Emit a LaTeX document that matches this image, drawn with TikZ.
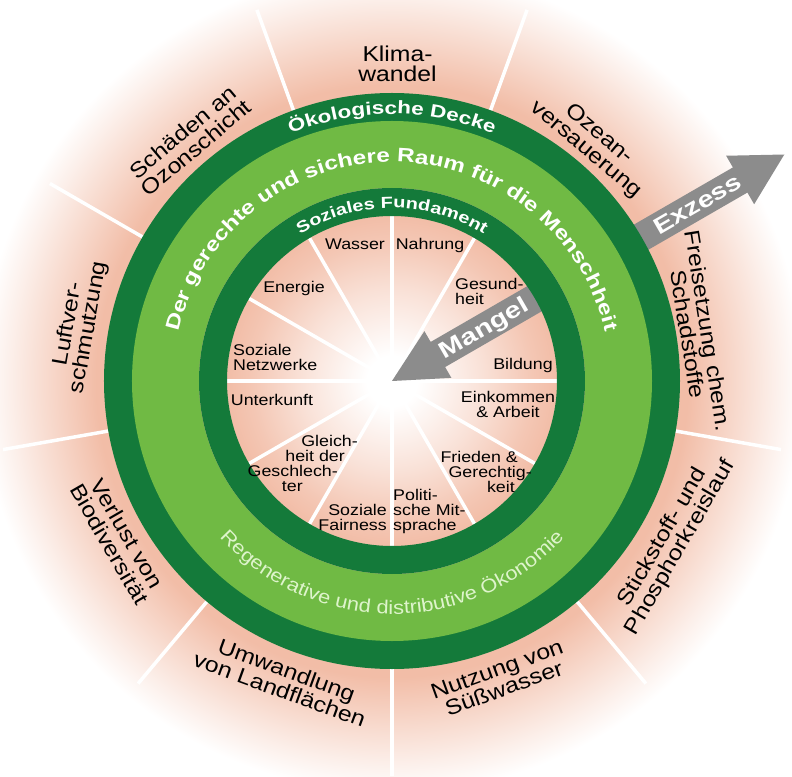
\documentclass[tikz,border=0pt]{standalone}
\usepackage{fontspec}
\setmainfont{Liberation Sans}
\newfontfamily\dnfont[FakeStretch=1.15]{Liberation Sans}
\newfontfamily\dnwide[FakeStretch=1.25]{Liberation Sans}
\usetikzlibrary{decorations.text}

\definecolor{dndark}{RGB}{20,122,58}
\definecolor{dnlight}{RGB}{112,186,68}
\definecolor{dnpeach}{RGB}{242,189,167}
\definecolor{dngray}{RGB}{140,140,140}
\definecolor{dnregen}{RGB}{222,244,204}
\colorlet{dnpeachA}{dnpeach!60!white}
\colorlet{dnpeachB}{dnpeach!25!white}
\colorlet{dnpeachC}{dnpeach!45!white}
\colorlet{dnpeachD}{dnpeach!85!white}

\pgfdeclareradialshading{dnglow}{\pgfpoint{0bp}{0bp}}{%
  color(0bp)=(dnpeach); color(295bp)=(dnpeach); color(340bp)=(dnpeachA);
  color(380bp)=(dnpeachB); color(410bp)=(white); color(420bp)=(white)}
\pgfdeclareradialshading{dncore}{\pgfpoint{0bp}{0bp}}{%
  color(0bp)=(white); color(25bp)=(white); color(90bp)=(dnpeachC);
  color(140bp)=(dnpeachD); color(165bp)=(dnpeach); color(200bp)=(dnpeach)}

\tikzset{
  dnspoke/.style={white, line width=3.5pt},
  dnouter/.style={font=\dnfont\fontsize{21.5}{20.5}\selectfont, align=center, inner sep=0pt},
  dninner/.style={font=\dnfont\fontsize{15.5}{15}\selectfont, inner sep=0pt},
  dnarrow/.style={fill=dngray},
  dnarrowtext/.style={font=\dnwide\bfseries\fontsize{23}{23}\selectfont, text=white,
    inner sep=0pt, text height=15pt, text depth=0pt},
  dnring/.style={decorate, decoration={text along path, text align=center,
    text color=white, text={#1}}}
}

\begin{document}
\begin{tikzpicture}[x=1pt, y=1pt]
  \useasboundingbox (-392,-395) rectangle (400,381);
  \node[inner sep=0pt] (glow) at (0,0) {\pgfuseshading{dnglow}};

  % planetary boundaries
  \foreach \ang in {110,70,30,-10,-50,-90,-130,-170,150}
    \draw[dnspoke] (\ang:288) -- (\ang:395);
  \fill[dnarrow, rotate=30] (270,-14.5) -- (402,-14.5) -- (402,-28) -- (453,0)
    -- (402,28) -- (402,14.5) -- (270,14.5) -- cycle;
  \fill[dndark] (0,0) circle (288);
  \fill[dnlight] (0,0) circle (260);

  % social foundation
  \begin{scope}
    \clip (0,0) circle (193);
    \node[inner sep=0pt] (core) at (0,0) {\pgfuseshading{dncore}};
  \end{scope}
  \foreach \ang in {0,30,...,330}
    \draw[dnspoke] (0,0) -- (\ang:165);
  \fill[dnarrow, rotate=30] (0,0) -- (53,27) -- (53,14.5) -- (185,14.5)
    -- (185,-14.5) -- (53,-14.5) -- (53,-27) -- cycle;
  \fill[dndark, even odd rule] (0,0) circle (193) (0,0) circle (165);

  % ring texts
  \path[dnring={|\dnwide\bfseries\fontsize{18}{18}\selectfont|Ökologische Decke}]
    (130:267) arc[start angle=130, end angle=50, radius=267];
  \path[dnring={|\dnwide\bfseries\fontsize{19.5}{19.5}\selectfont|Der gerechte und sichere Raum für die Menschheit}]
    (172:219) arc[start angle=172, end angle=8, radius=219];
  \path[dnring={|\dnwide\bfseries\fontsize{16}{16}\selectfont|Soziales Fundament}]
    (140:173) arc[start angle=140, end angle=40, radius=173];
  \path[dnring={|\dnfont\fontsize{19}{19}\selectfont|Regenerative und distributive Ökonomie},
    decoration={text color=dnregen}]
    (200:233) arc[start angle=200, end angle=340, radius=233];

  \node[dnarrowtext, rotate=30] (mangel) at (30:106) {Mangel};
  \node[dnarrowtext, rotate=30] (exzess) at (30:353) {Exzess};

  % outer labels
  \foreach \ang/\dist/\rot/\txt [count=\i] in {
      89/317/0/{Klima-\\wandel},
      50/312/-40/{Ozean-\\versauerung},
      9/310/-81/{Freisetzung chem.\\Schadstoffe},
      -30/323/60/{Stickstoff- und\\Phosphorkreislauf},
      -70/317/20/{Nutzung von\\Süßwasser},
      -110/318/-20/{Umwandlung\\von Landflächen},
      -150/316/-60/{Verlust von\\Biodiversität},
      170/318/80/{Luftver-\\schmutzung},
      130/315/40/{Schäden an\\Ozonschicht}}
    \node[dnouter, rotate=\rot] (boundary\i) at (\ang:\dist) {\txt};

  % inner labels
  \node[dninner] (wasser) at (-37,137) {Wasser};
  \node[dninner] (nahrung) at (38,136) {Nahrung};
  \node[dninner, align=left, anchor=west] (gesundheit) at (63,90) {Gesund-\\heit};
  \node[dninner] (bildung) at (131,16) {Bildung};
  \node[dninner, align=center] (einkommen) at (116,-23) {Einkommen\\\& Arbeit};
  \node[dninner, align=right, anchor=east] (frieden) at (140,-91)
    {Frieden \&\kern14pt\\Gerechtig-\\keit\kern17pt};
  \node[dninner, align=left, anchor=west] (mitsprache) at (1,-130) {Politi-\\sche Mit-\\sprache};
  \node[dninner, align=right, anchor=east] (fairness) at (-5,-136) {Soziale\\Fairness};
  \node[dninner, align=right, anchor=east] (gleichheit) at (-34,-82)
    {Gleich-\\heit der\kern13pt\\Geschlech-\kern20pt\\ter\kern55pt};
  \node[dninner] (unterkunft) at (-120,-19) {Unterkunft};
  \node[dninner, align=left, anchor=west] (netzwerke) at (-159,24) {Soziale\\Netzwerke};
  \node[dninner] (energie) at (-98,93) {Energie};
\end{tikzpicture}
\end{document}
